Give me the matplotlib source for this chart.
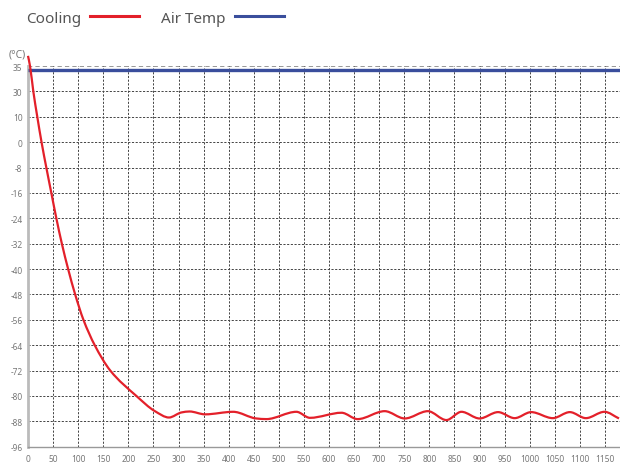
import numpy as np
import matplotlib
matplotlib.use("Agg")
import matplotlib.pyplot as plt
from matplotlib.path import Path
from matplotlib.patches import PathPatch
from matplotlib.lines import Line2D

plt.rcParams['font.family'] = ['Noto Sans', 'DejaVu Sans']

# ---- data ----
y_tick_values = [35, 30, 10, 0, -8, -16, -24, -32, -40, -48, -56, -64, -72, -80, -88, -96]
x_tick_values = list(range(0, 1151, 50))

cooling_t = [0, 4, 10.6, 18.5, 27, 36.5, 46.5, 56.5, 67.5, 80, 94, 110.5, 133, 164, 216,
             253, 281, 306, 322, 353, 409, 455, 475, 535, 562, 625, 657, 711, 751,
             797, 834, 864, 900, 937, 970, 1003, 1046, 1080, 1112, 1149, 1178]
cooling_v = [37, 35, 30, 10, 0, -8, -16, -24, -32, -40, -48, -56, -64, -72, -80,
             -84.8, -86.8, -85.2, -84.9, -85.8, -85.0, -87.1, -87.3, -85.0, -86.9, -85.3, -87.3, -84.8, -87.1,
             -84.8, -87.6, -85.0, -87.1, -85.1, -87.0, -85.1, -87.0, -85.1, -87.0, -85.0, -87.1]

air_t = [0, 1180]
air_v = [34.2, 34.2]

series_names = ["Cooling", "Air Temp"]
series_colors = ["#e3202a", "#3a4e9c"]

# ---- piecewise scale (labels are equally spaced) ----
vals_asc = np.array(y_tick_values[::-1], dtype=float)
idx_asc = np.arange(len(vals_asc), dtype=float)


def fwd(v):
    v = np.asarray(v, dtype=float)
    out = np.interp(v, vals_asc, idx_asc)
    s_lo = 1.0 / (vals_asc[1] - vals_asc[0])
    s_hi = 1.0 / (vals_asc[-1] - vals_asc[-2])
    out = np.where(v < vals_asc[0], idx_asc[0] + (v - vals_asc[0]) * s_lo, out)
    out = np.where(v > vals_asc[-1], idx_asc[-1] + (v - vals_asc[-1]) * s_hi, out)
    return out


def inv(i):
    i = np.asarray(i, dtype=float)
    out = np.interp(i, idx_asc, vals_asc)
    s_lo = (vals_asc[1] - vals_asc[0])
    s_hi = (vals_asc[-1] - vals_asc[-2])
    out = np.where(i < idx_asc[0], vals_asc[0] + (i - idx_asc[0]) * s_lo, out)
    out = np.where(i > idx_asc[-1], vals_asc[-1] + (i - idx_asc[-1]) * s_hi, out)
    return out


W, H = 620, 464
fig = plt.figure(figsize=(W / 100, H / 100), dpi=100)
left, right, top, bottom = 28, 620, 67, 447.7
ax = fig.add_axes([left / W, (H - bottom) / H, (right - left) / W, (bottom - top) / H])
ax.set_yscale('function', functions=(fwd, inv))
ax.set_xlim(0, 1180)
ax.set_ylim(-96, 35)

ax.set_yticks(y_tick_values)
ax.set_yticklabels([str(v) for v in y_tick_values])
ax.set_xticks(x_tick_values)
ax.set_xticklabels([str(v) for v in x_tick_values])
ax.minorticks_off()
ax.tick_params(axis='both', length=0, labelsize=6, labelcolor='#777777')
ax.tick_params(axis='x', pad=5)
ax.tick_params(axis='y', pad=4)

# grid
for v in y_tick_values[1:]:
    ax.axhline(v, color='#444444', lw=0.7, ls=(0, (2.2, 1.6)), zorder=1)
ax.axhline(35, color='#999999', lw=1.4, ls=(0, (2.2, 1.6)), zorder=1)
for t in x_tick_values[1:]:
    ax.axvline(t, color='#444444', lw=0.7, ls=(0, (2.2, 1.6)), zorder=1)

for s in ['top', 'right']:
    ax.spines[s].set_visible(False)
ax.spines['left'].set_color('#bbbbbb')
ax.spines['left'].set_linewidth(2)
ax.spines['bottom'].set_color('#999999')
ax.spines['bottom'].set_linewidth(1)

# air temp line
ax.plot(air_t, air_v, color=series_colors[1], lw=2.4, zorder=3, solid_capstyle='butt')

# cooling: smooth monotone cubic (drawn as bezier) built in scale space
tx = np.asarray(cooling_t, dtype=float)
ty = fwd(cooling_v)
h = np.diff(tx)
d = np.diff(ty) / h
m = np.zeros_like(tx)
m[0], m[-1] = d[0], d[-1]
for k in range(1, len(tx) - 1):
    if d[k - 1] * d[k] <= 0:
        m[k] = 0.0
    else:
        w1 = 2 * h[k] + h[k - 1]
        w2 = h[k] + 2 * h[k - 1]
        m[k] = (w1 + w2) / (w1 / d[k - 1] + w2 / d[k])
verts = [[tx[0], ty[0]]]
codes = [Path.MOVETO]
for k in range(len(tx) - 1):
    dt = h[k] / 3.0
    verts += [[tx[k] + dt, ty[k] + m[k] * dt],
              [tx[k + 1] - dt, ty[k + 1] - m[k + 1] * dt],
              [tx[k + 1], ty[k + 1]]]
    codes += [Path.CURVE4] * 3
verts = np.array(verts)
verts[:, 1] = inv(verts[:, 1])
patch = PathPatch(Path(verts, codes), facecolor='none', edgecolor=series_colors[0], lw=1.6,
                  zorder=4, clip_on=False)
ax.add_patch(patch)

# unit label
fig.text(9 / W, 1 - 55 / H, "(°C)", fontsize=7.5, color='#777777', va='center', ha='left')

# legend
handles = [Line2D([], [], color=series_colors[0], lw=2.2),
           Line2D([], [], color=series_colors[1], lw=2.2)]
leg = fig.legend(handles, series_names, loc='upper left', bbox_to_anchor=(12 / W, 1 + 2 / H),
                 ncol=2, frameon=False, markerfirst=False, fontsize=11,
                 handlelength=3.2, handletextpad=0.6, columnspacing=1.45)
for txt in leg.get_texts():
    txt.set_color('#555555')

fig.savefig("out.png", dpi=100)
